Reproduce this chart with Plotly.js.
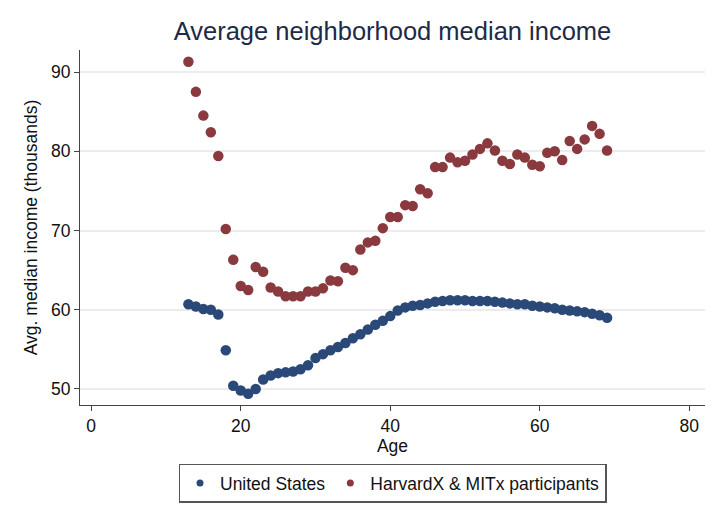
<!DOCTYPE html>
<html>
<head>
<meta charset="utf-8">
<script src="https://cdn.plot.ly/plotly-3.0.1.min.js"></script>
<style>
  html, body { margin: 0; padding: 0; background: #fff; }
  #chart { width: 720px; height: 523px; }
</style>
</head>
<body>
<div id="chart"></div>
<script>
// ages 13..69
var ages = [13, 14, 15, 16, 17, 18, 19, 20, 21, 22, 23, 24, 25, 26, 27, 28, 29, 30,
            31, 32, 33, 34, 35, 36, 37, 38, 39, 40, 41, 42, 43, 44, 45, 46, 47, 48, 49, 50,
            51, 52, 53, 54, 55, 56, 57, 58, 59, 60, 61, 62, 63, 64, 65, 66, 67, 68, 69];

// United States
var usIncome = [60.7, 60.4, 60.1, 60.0, 59.4, 54.9, 50.4, 49.8, 49.4, 50.0, 51.2, 51.7, 52.0, 52.1,
                52.2, 52.5, 53.0, 53.9, 54.4, 54.9, 55.3, 55.8, 56.4, 56.9, 57.5, 58.1, 58.6, 59.2,
                59.9, 60.3, 60.5, 60.6, 60.8, 61.0, 61.1, 61.2, 61.2, 61.2, 61.1, 61.1, 61.1, 61.0,
                60.9, 60.8, 60.7, 60.7, 60.5, 60.4, 60.3, 60.2, 60.0, 59.9, 59.8, 59.7, 59.5, 59.3, 59.0];

// HarvardX & MITx participants
var hxIncome = [91.3, 87.5, 84.5, 82.4, 79.4, 70.2, 66.3, 63.0, 62.5, 65.4, 64.8, 62.8, 62.3, 61.7,
                61.7, 61.7, 62.3, 62.3, 62.7, 63.7, 63.6, 65.3, 65.0, 67.6, 68.5, 68.7, 70.3, 71.7,
                71.7, 73.2, 73.1, 75.2, 74.7, 78.0, 78.0, 79.2, 78.6, 78.8, 79.6, 80.3, 81.0, 80.1,
                78.8, 78.4, 79.6, 79.2, 78.3, 78.1, 79.8, 80.0, 78.9, 81.3, 80.3, 81.5, 83.2, 82.2, 80.1];

var seriesNames = ['United States', 'HarvardX & MITx participants'];
var navy = '#2a4878';
var maroon = '#8a3a3e';

var font = 'Liberation Sans, Arial, Helvetica, sans-serif';

var us = {
    x: ages, y: usIncome, name: seriesNames[0],
    mode: 'markers', type: 'scatter', showlegend: false,
    marker: {color: navy, size: 10.5}
};
var hx = {
    x: ages, y: hxIncome, name: seriesNames[1],
    mode: 'markers', type: 'scatter', showlegend: false,
    marker: {color: maroon, size: 10.5}
};
// smaller symbols for the legend only
var usKey = {x: [null], y: [null], name: seriesNames[0], mode: 'markers',
             marker: {color: navy, size: 7}};
var hxKey = {x: [null], y: [null], name: seriesNames[1], mode: 'markers',
             marker: {color: maroon, size: 7}};

var layout = {
    width: 720,
    height: 523,
    margin: {l: 80, r: 15, t: 50, b: 118},
    paper_bgcolor: '#fff',
    plot_bgcolor: '#fff',
    font: {family: font, size: 17.5, color: '#111'},
    title: {
        text: 'Average neighborhood median income',
        font: {family: font, size: 25.5, color: '#1e2a48'},
        x: 0.5, xref: 'paper', y: 0.94, yanchor: 'middle'
    },
    xaxis: {
        range: [-1.5, 82.1],
        tickvals: [0, 20, 40, 60, 80],
        showgrid: false, zeroline: false,
        showline: true, linecolor: '#444', linewidth: 1,
        ticks: 'outside', ticklen: 5, tickcolor: '#444',
        tickfont: {size: 17.5},
        title: {text: 'Age', font: {size: 17.5}, standoff: 2}
    },
    yaxis: {
        range: [47.98, 92.78],
        tickvals: [50, 60, 70, 80, 90],
        showgrid: true, gridcolor: '#ececec', gridwidth: 1.5,
        zeroline: false,
        showline: true, linecolor: '#444', linewidth: 1,
        ticks: 'outside', ticklen: 5, tickcolor: '#444',
        tickfont: {size: 17.5},
        title: {text: 'Avg. median income (thousands)', font: {size: 17.5}, standoff: 8}
    },
    legend: {
        orientation: 'h',
        x: 0.5, xanchor: 'center',
        y: -0.165, yanchor: 'top',
        bordercolor: '#555', borderwidth: 1.5,
        font: {size: 17.5},
        itemwidth: 30
    }
};

Plotly.newPlot('chart', [us, hx, usKey, hxKey], layout, {displayModeBar: false});
</script>
</body>
</html>
